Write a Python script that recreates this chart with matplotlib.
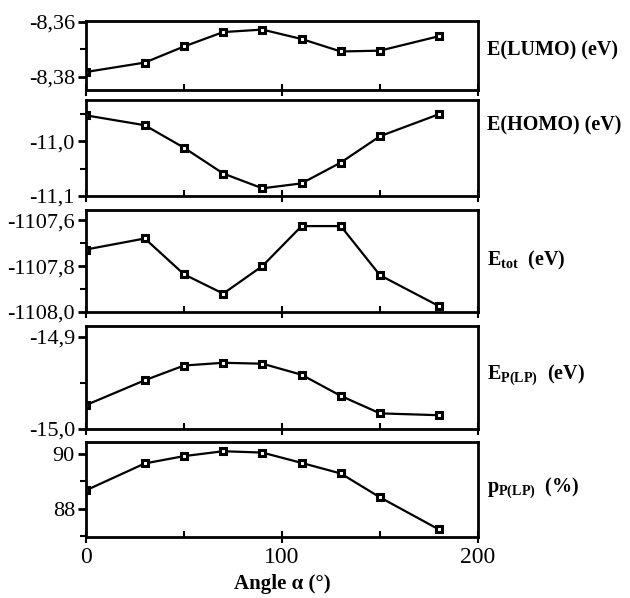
import matplotlib
matplotlib.use('Agg')
import matplotlib.pyplot as plt
from matplotlib.ticker import MultipleLocator, FuncFormatter

plt.rcParams['font.family'] = ['Liberation Serif', 'DejaVu Serif']
plt.rcParams['mathtext.fontset'] = 'custom'
plt.rcParams['mathtext.rm'] = 'Liberation Serif'
plt.rcParams['mathtext.bf'] = 'Liberation Serif:bold'
plt.rcParams['mathtext.it'] = 'Liberation Serif:italic'

# angle alpha (deg)
angle = [0, 30, 50, 70, 90, 110, 130, 150, 180]

e_lumo = [-8.3782, -8.3748, -8.3690, -8.3638, -8.3629, -8.3663, -8.3708, -8.3705, -8.3653]
e_homo = [-10.953, -10.971, -11.012, -11.059, -11.086, -11.077, -11.039, -10.991, -10.951]
e_tot = [-1107.728, -1107.680, -1107.836, -1107.920, -1107.800, -1107.626, -1107.626, -1107.840, -1107.974]
e_plp = [-14.974, -14.947, -14.931, -14.928, -14.929, -14.941, -14.964, -14.983, -14.985]
p_plp = [88.67, 89.66, 89.93, 90.11, 90.06, 89.68, 89.29, 88.41, 87.23]

series = [e_lumo, e_homo, e_tot, e_plp, p_plp]
labels = ['E(LUMO) (eV)', 'E(HOMO) (eV)',
          r'E$_{\mathbf{tot}}$  (eV)', r'E$_{\mathbf{P(LP)}}$  (eV)', r'p$_{\mathbf{P(LP)}}$  (%)']
ylims = [(-8.3847, -8.3598), (-11.1, -10.925), (-1108.0, -1107.556), (-15.0, -14.888), (86.95, 90.45)]
majors = [0.02, 0.1, 0.2, 0.1, 2]
fmts = ['%.2f', '%.1f', '%.1f', '%.1f', '%d']
# panel pixel extents (top, bottom) in a 598 px high image
rows = [(21, 90), (100, 196), (210, 312), (326, 429), (442, 537)]
label_y = [50, 125, 260, 375, 488]

W, H = 630, 598
fig = plt.figure(figsize=(6.3, 5.98), dpi=100)
left, right = 86, 478

for i, ys in enumerate(series):
    top, bot = rows[i]
    ax = fig.add_axes([left / W, 1 - bot / H, (right - left) / W, (bot - top) / H])
    ax.plot(angle, ys, color='black', lw=1.6, marker='s', ms=5,
            mfc='white', mec='black', mew=2.2)
    ax.set_xlim(0, 200)
    ax.set_ylim(*ylims[i])
    ax.xaxis.set_major_locator(MultipleLocator(100))
    ax.xaxis.set_minor_locator(MultipleLocator(50))
    ax.yaxis.set_major_locator(MultipleLocator(majors[i]))
    ax.yaxis.set_minor_locator(MultipleLocator(majors[i] / 2))
    f = fmts[i]
    ax.yaxis.set_major_formatter(FuncFormatter(lambda v, p, f=f: (f % v).replace('.', ',')))
    for s in ax.spines.values():
        s.set_linewidth(2)
    ax.tick_params(axis='y', which='major', direction='out', length=6, width=2, labelsize=16, pad=2)
    ax.tick_params(axis='y', which='minor', direction='out', length=4, width=1.5)
    ax.tick_params(axis='x', which='major', direction='inout', length=8, width=1.5, labelsize=17)
    ax.tick_params(axis='x', which='minor', direction='in', length=4, width=1.5)
    if i < 4:
        ax.tick_params(axis='x', labelbottom=False)
    else:
        ax.set_xlabel('Angle α (°)', fontsize=15, fontweight='bold', labelpad=4)
    fig.text(487 / W, 1 - label_y[i] / H, labels[i], fontsize=14.5, fontweight='bold',
             ha='left', va='center')

fig.savefig('out.png', dpi=100)
